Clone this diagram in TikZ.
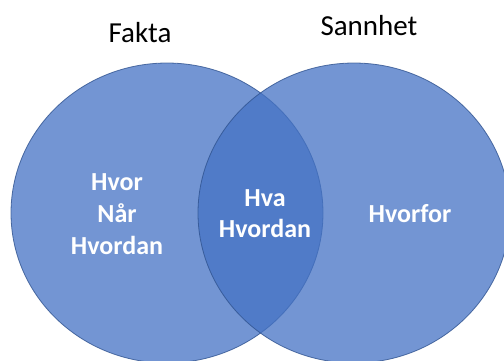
\documentclass[tikz,border=0pt]{standalone}
\usepackage{fontspec}
\setmainfont{Carlito}
\definecolor{vennfill}{HTML}{4472C4}
\definecolor{vennline}{HTML}{2F528F}
\begin{document}
\begin{tikzpicture}[x=1pt,y=-1pt,
  venn/.style={fill=vennfill,fill opacity=0.75,draw=vennline,draw opacity=0.8,line width=0.8pt},
  inner/.style={text=white,font=\bfseries\fontsize{26}{32}\selectfont,align=center,inner sep=0pt},
  title/.style={text=black,font=\fontsize{29}{35}\selectfont,anchor=base,inner sep=0pt}]
\useasboundingbox (0,0) rectangle (504,360);
\begin{scope}
\clip (0,0) rectangle (504,360);
\draw[venn] (167,213) ellipse [x radius=156, y radius=150];
\draw[venn] (354,213) ellipse [x radius=156, y radius=150];
\end{scope}
\node[title] (fakta) at (140,42) {Fakta};
\node[title] (sannhet) at (369,35) {Sannhet};
\node[inner,anchor=base] (hvor) at (117,190) {Hvor};
\node[inner,anchor=base] (naar) at (117,222) {Når};
\node[inner,anchor=base] (hvordanL) at (117,254) {Hvordan};
\node[inner,anchor=base] (hva) at (265,206) {Hva};
\node[inner,anchor=base] (hvordanM) at (265,237) {Hvordan};
\node[inner,anchor=base] (hvorfor) at (410,222) {Hvorfor};
\end{tikzpicture}
\end{document}
